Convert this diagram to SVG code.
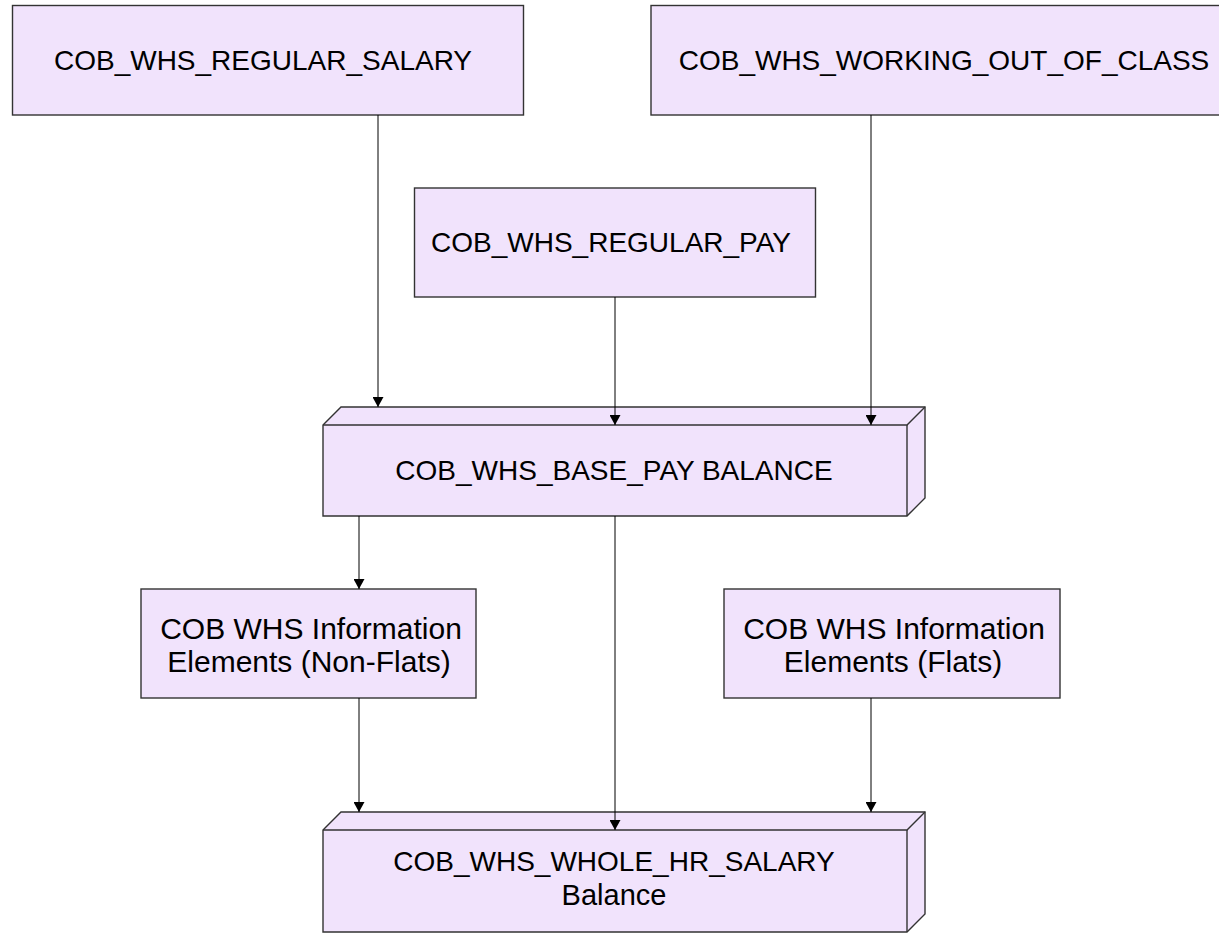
<svg xmlns="http://www.w3.org/2000/svg" width="1219" height="934" viewBox="0 0 1219 934">
<style>
.box{fill:#F1E3FC;stroke:#333;stroke-width:1.4}
.edge{fill:none;stroke:#333;stroke-width:1.4}
.lbl{font-family:"Liberation Sans",Arial,sans-serif;font-size:28px;fill:#000;text-anchor:middle}
.big{font-size:30px}
.conn{fill:none;stroke:#000;stroke-width:1}
</style>
<defs>
<marker id="arr" markerWidth="10" markerHeight="11" refX="10" refY="5.5" orient="auto" markerUnits="userSpaceOnUse">
<path d="M0,0 L10,5.5 L0,11 Z" fill="#000"/>
</marker>
</defs>
<rect width="1219" height="934" fill="#fff"/>
<g id="regular_salary">
<rect class="box" x="12.5" y="5.5" width="511" height="109.5"/>
<text class="lbl" x="263" y="70">COB_WHS_REGULAR_SALARY</text>
</g>
<g id="working_out_of_class">
<rect class="box" x="651" y="5.5" width="580" height="109.5"/>
<text class="lbl" x="944" y="70">COB_WHS_WORKING_OUT_OF_CLASS</text>
</g>
<g id="regular_pay">
<rect class="box" x="414.5" y="188" width="401" height="109"/>
<text class="lbl" x="611" y="252">COB_WHS_REGULAR_PAY</text>
</g>
<g id="base_pay_balance">
<polygon class="box" points="323,425 341,407 925,407 925,498 907,516 323,516"/>
<polyline class="edge" points="323,425 907,425 925,407"/>
<line class="edge" x1="907" y1="425" x2="907" y2="516"/>
<text class="lbl" x="614" y="480">COB_WHS_BASE_PAY BALANCE</text>
</g>
<g id="info_non_flats">
<rect class="box" x="141" y="589" width="335" height="109"/>
<text class="lbl big" x="311" y="639">COB WHS Information</text>
<text class="lbl big" x="309" y="672">Elements (Non-Flats)</text>
</g>
<g id="info_flats">
<rect class="box" x="724" y="589" width="336" height="109"/>
<text class="lbl big" x="894" y="639">COB WHS Information</text>
<text class="lbl big" x="893" y="672">Elements (Flats)</text>
</g>
<g id="whole_hr_salary_balance">
<polygon class="box" points="323,830 341,812 925,812 925,914 907,932 323,932"/>
<polyline class="edge" points="323,830 907,830 925,812"/>
<line class="edge" x1="907" y1="830" x2="907" y2="932"/>
<text class="lbl" x="614" y="871">COB_WHS_WHOLE_HR_SALARY</text>
<text class="lbl" x="614" y="905" style="font-size:29px">Balance</text>
</g>
<g id="connectors">
<line class="conn" x1="378" y1="115" x2="378" y2="407" marker-end="url(#arr)"/>
<line class="conn" x1="615" y1="297" x2="615" y2="425" marker-end="url(#arr)"/>
<line class="conn" x1="871" y1="115" x2="871" y2="425" marker-end="url(#arr)"/>
<line class="conn" x1="359" y1="516" x2="359" y2="589" marker-end="url(#arr)"/>
<line class="conn" x1="615" y1="516" x2="615" y2="830" marker-end="url(#arr)"/>
<line class="conn" x1="359" y1="698" x2="359" y2="812" marker-end="url(#arr)"/>
<line class="conn" x1="871" y1="698" x2="871" y2="812" marker-end="url(#arr)"/>
</g>
</svg>
